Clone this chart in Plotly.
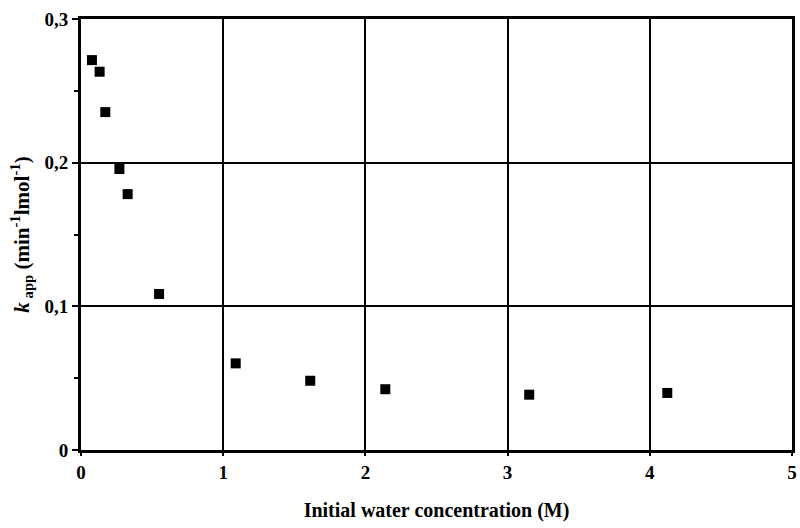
import plotly.graph_objects as go

water_conc = [0.077, 0.131, 0.171, 0.270, 0.328, 0.549, 1.088, 1.612, 2.140, 3.152, 4.123]
k_app = [0.2714, 0.2633, 0.2352, 0.1956, 0.1781, 0.1086, 0.0603, 0.0482, 0.0423, 0.0385, 0.0397]

x_ticks = [0, 1, 2, 3, 4, 5]
y_ticks = [0, 0.1, 0.2, 0.3]
y_ticklabels = ["0", "0,1", "0,2", "0,3"]

font_family = "Liberation Serif, Times New Roman, serif"

fig = go.Figure()
fig.add_trace(go.Scatter(
    x=water_conc, y=k_app, mode="markers",
    marker=dict(symbol="square", size=10, color="black"),
    showlegend=False, cliponaxis=False,
))

fig.update_layout(
    width=800, height=528,
    margin=dict(l=81, r=8, t=19, b=78, autoexpand=False),
    paper_bgcolor="white", plot_bgcolor="white",
    font=dict(family=font_family, size=18, color="black"),
    separators=",.",
)
fig.update_xaxes(
    range=[0, 5], tickvals=x_ticks, ticktext=[str(v) for v in x_ticks],
    automargin=False,
    showgrid=True, gridcolor="black", gridwidth=2,
    showline=True, linecolor="black", linewidth=3, mirror=True,
    ticks="outside", ticklen=3, tickwidth=2, tickcolor="black",
    tickfont=dict(family=font_family, size=19, color="black", weight="bold"),
    zeroline=False,
    title=dict(text="<b>Initial water concentration (M)</b>", font=dict(size=20), standoff=22),
)
fig.update_yaxes(
    range=[0, 0.3], tickvals=y_ticks, ticktext=y_ticklabels,
    automargin=False,
    showgrid=True, gridcolor="black", gridwidth=2,
    showline=True, linecolor="black", linewidth=3, mirror=True,
    ticks="outside", ticklen=6, tickwidth=2, tickcolor="black",
    tickfont=dict(family=font_family, size=19, color="black", weight="bold"),
    minor=dict(tickvals=[0.05, 0.15, 0.25], ticks="outside", ticklen=4, tickwidth=2, tickcolor="black", showgrid=False),
    zeroline=False,
    title=dict(text="<b><i>k</i><sub> app</sub> (min<sup>-1</sup>lmol<sup>-1</sup>)</b>", font=dict(size=21), standoff=10),
)

fig.write_html(
    "out.html",
    config={"displayModeBar": False},
    post_script="document.body.style.margin='0';document.body.style.overflow='hidden';document.documentElement.style.overflow='hidden';",
)
